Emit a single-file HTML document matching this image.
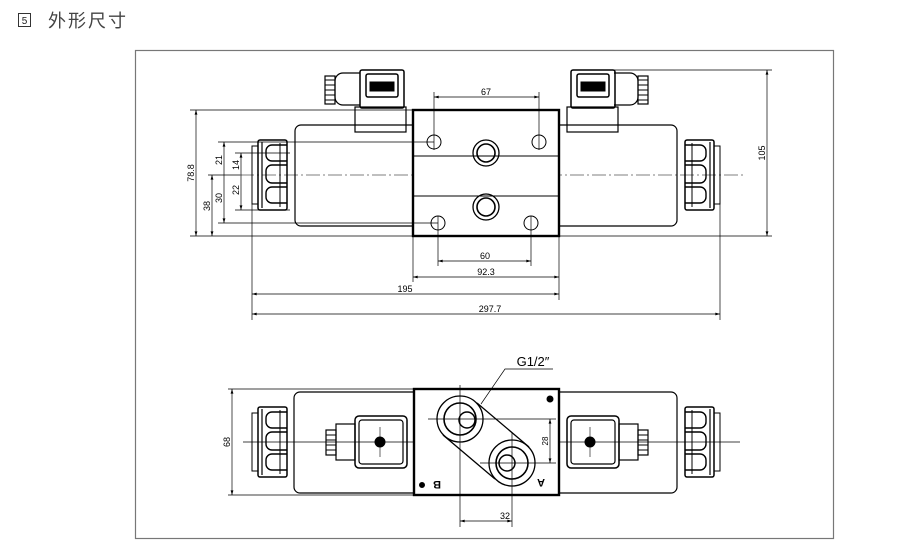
<!DOCTYPE html>
<html><head><meta charset="utf-8"><style>
html,body{margin:0;padding:0;background:#fff;width:905px;height:553px;overflow:hidden}
svg{display:block}
text{font-family:"Liberation Sans","DejaVu Sans",sans-serif}
</style></head><body>
<svg width="905" height="553" viewBox="0 0 905 553" xmlns="http://www.w3.org/2000/svg">
<defs>
<marker id="a" viewBox="0 0 10 6" refX="10" refY="3" markerWidth="8" markerHeight="4" orient="auto-start-reverse"><path d="M0,0L10,3L0,6z" fill="#000"/></marker>
<g id="nutL" fill="none" stroke="#000">
<rect x="0" y="0" width="29" height="70" rx="2" stroke-width="1.5"/>
<rect x="-6" y="6" width="6" height="58" stroke-width="1"/>
<path d="M4,2v66" stroke-width="1.2"/>
<path d="M29,5H14a6,6 0 0 0 -6,6v4a6,6 0 0 0 6,6H29" stroke-width="1.4"/>
<path d="M29,25H14a6,6 0 0 0 -6,6v6a6,6 0 0 0 6,6H29" stroke-width="1.4"/>
<path d="M29,47H14a6,6 0 0 0 -6,6v4a6,6 0 0 0 6,6H29" stroke-width="1.4"/>
<path d="M22,3v64" stroke-width="1"/>
</g>
</defs>
<!-- title -->
<rect x="18.5" y="13.5" width="12" height="13" fill="none" stroke="#333" stroke-width="1"/>
<text x="24.5" y="24" font-size="10" text-anchor="middle" fill="#222">5</text>
<text x="48" y="27" font-size="18" fill="#444" font-family="'Liberation Sans','Noto Sans CJK SC',sans-serif" letter-spacing="2">外形尺寸</text>
<!-- frame -->
<rect x="135.5" y="50.5" width="698" height="488" fill="none" stroke="#777" stroke-width="1.2"/>

<g fill="none" stroke="#000" stroke-width="1">
<!-- ===== TOP VIEW ===== -->
<line x1="240" y1="175" x2="745" y2="175" stroke-width="0.6" stroke-dasharray="14,3,2,3"/>
<path d="M413,125H301a6,6 0 0 0 -6,6V220a6,6 0 0 0 6,6H413" stroke-width="1.2"/>
<path d="M559,125H671a6,6 0 0 1 6,6V220a6,6 0 0 1 -6,6H559" stroke-width="1.2"/>
<use href="#nutL" transform="translate(258,140)"/>
<use href="#nutL" transform="translate(714,140) scale(-1,1)"/>
<!-- connectors -->
<rect x="355" y="107" width="51" height="25" stroke-width="1.2"/>
<path d="M360,73H343a8,8 0 0 0 -8,8V97a8,8 0 0 0 8,8H360" stroke-width="1.2"/>
<rect x="360" y="70" width="44" height="38" rx="2" stroke-width="1.5"/>
<rect x="366" y="74" width="32" height="23" rx="2" stroke-width="1.5"/>
<rect x="370" y="82" width="24" height="9" fill="#000"/>
<rect x="325" y="76" width="10" height="28" stroke-width="1.2"/>
<path d="M325,80h10M325,85h10M325,90h10M325,95h10M325,100h10"/>
<rect x="567" y="107" width="51" height="25" stroke-width="1.2"/>
<path d="M614,73H630a8,8 0 0 1 8,8V97a8,8 0 0 1 -8,8H614" stroke-width="1.2"/>
<rect x="571" y="70" width="44" height="38" rx="2" stroke-width="1.5"/>
<rect x="577" y="74" width="32" height="23" rx="2" stroke-width="1.5"/>
<rect x="581" y="82" width="24" height="9" fill="#000"/>
<rect x="638" y="76" width="10" height="28" stroke-width="1.2"/>
<path d="M638,80h10M638,85h10M638,90h10M638,95h10M638,100h10"/>
<!-- block -->
<rect x="413" y="110" width="146" height="126" fill="#fff" stroke-width="2.4"/>
<line x1="413" y1="156" x2="559" y2="156"/>
<line x1="413" y1="196" x2="559" y2="196"/>
<circle cx="434" cy="142" r="7"/><circle cx="539" cy="142" r="7"/>
<circle cx="438" cy="223" r="7"/><circle cx="531" cy="223" r="7"/>
<circle cx="486" cy="153" r="13" stroke-width="1.3"/><circle cx="486" cy="153" r="9" stroke-width="1.6"/>
<circle cx="486" cy="207" r="13" stroke-width="1.3"/><circle cx="486" cy="207" r="9" stroke-width="1.6"/>
<g stroke-width="0.7">
<path d="M434,92V150M539,92V150M438,216V266M531,216V266M413,236V282M559,236V300M252,204V320M720,204V320"/>
<line x1="434" y1="97" x2="539" y2="97" marker-start="url(#a)" marker-end="url(#a)"/>
<line x1="438" y1="261" x2="531" y2="261" marker-start="url(#a)" marker-end="url(#a)"/>
<line x1="413" y1="277" x2="559" y2="277" marker-start="url(#a)" marker-end="url(#a)"/>
<line x1="252" y1="294" x2="559" y2="294" marker-start="url(#a)" marker-end="url(#a)"/>
<line x1="252" y1="314" x2="720" y2="314" marker-start="url(#a)" marker-end="url(#a)"/>
<path d="M190,110H413M190,236H413M208,175H240M218,142H434M235,153H290M218,223H438M235,210H290M613,70H772M559,236H772"/>
<line x1="196" y1="110" x2="196" y2="236" marker-start="url(#a)" marker-end="url(#a)"/>
<line x1="212" y1="175" x2="212" y2="236" marker-start="url(#a)" marker-end="url(#a)"/>
<line x1="224" y1="142" x2="224" y2="223" marker-start="url(#a)" marker-end="url(#a)"/>
<line x1="241" y1="153" x2="241" y2="210" marker-start="url(#a)" marker-end="url(#a)"/>
<line x1="767" y1="70" x2="767" y2="236" marker-start="url(#a)" marker-end="url(#a)"/>
</g>

<!-- ===== BOTTOM VIEW ===== -->
<line x1="243" y1="442" x2="740" y2="442" stroke-width="0.7"/>
<path d="M414,392H300a6,6 0 0 0 -6,6V487a6,6 0 0 0 6,6H414" stroke-width="1.2"/>
<path d="M559,392H671a6,6 0 0 1 6,6V487a6,6 0 0 1 -6,6H559" stroke-width="1.2"/>
<use href="#nutL" transform="translate(258,407)"/>
<use href="#nutL" transform="translate(714,407) scale(-1,1)"/>
<rect x="355" y="416" width="52" height="52" rx="4" stroke-width="1.5"/>
<rect x="359" y="420" width="44" height="44" rx="3" stroke-width="1.2"/>
<rect x="336" y="424" width="19" height="36" stroke-width="1.2"/>
<rect x="326" y="430" width="10" height="25" stroke-width="1.2"/>
<path d="M326,435h10M326,440h10M326,445h10M326,450h10"/>
<circle cx="380" cy="442" r="5" fill="#000"/>
<path d="M380,427v30" stroke-width="0.6"/>
<rect x="567" y="416" width="52" height="52" rx="4" stroke-width="1.5"/>
<rect x="571" y="420" width="44" height="44" rx="3" stroke-width="1.2"/>
<rect x="619" y="424" width="19" height="36" stroke-width="1.2"/>
<rect x="638" y="430" width="10" height="25" stroke-width="1.2"/>
<path d="M638,435h10M638,440h10M638,445h10M638,450h10"/>
<circle cx="590" cy="442" r="5" fill="#000"/>
<path d="M590,427v30" stroke-width="0.6"/>
<rect x="414" y="389" width="145" height="106" fill="#fff" stroke-width="2.4"/>
<circle cx="460" cy="419" r="23" stroke-width="1.3" fill="#fff"/>
<circle cx="512" cy="463" r="23" stroke-width="1.3" fill="#fff"/>
<path d="M443,435L495,479M477,403L529,447" stroke-width="1.3"/>
<circle cx="460" cy="419" r="16" stroke-width="1.6"/>
<circle cx="512" cy="463" r="16" stroke-width="1.6"/>
<circle cx="467" cy="420" r="8" stroke-width="1.5"/>
<circle cx="507" cy="463" r="8" stroke-width="1.5"/>
<circle cx="550" cy="399" r="3" fill="#000"/>
<circle cx="422" cy="485" r="2.5" fill="#000"/>
<g stroke-width="0.7">
<path d="M460,385V527M512,432V527M428,419H556M480,463H556M228,389H414M228,495H414"/>
<line x1="232" y1="389" x2="232" y2="495" marker-start="url(#a)" marker-end="url(#a)"/>
<line x1="550" y1="419" x2="550" y2="463" marker-start="url(#a)" marker-end="url(#a)"/>
<line x1="460" y1="521" x2="512" y2="521" marker-start="url(#a)" marker-end="url(#a)"/>
<path d="M553,369H505L481,404"/>
</g>
</g>
<g font-size="9" fill="#000" text-anchor="middle">
<text x="486" y="95">67</text>
<text x="485" y="259">60</text>
<text x="486" y="275">92.3</text>
<text x="405" y="292">195</text>
<text x="490" y="312">297.7</text>
<text x="505" y="519">32</text>
<text transform="translate(194,173) rotate(-90)">78.8</text>
<text transform="translate(210,206) rotate(-90)">38</text>
<text transform="translate(222,198) rotate(-90)">30</text>
<text transform="translate(222,160) rotate(-90)">21</text>
<text transform="translate(239,165) rotate(-90)">14</text>
<text transform="translate(239,190) rotate(-90)">22</text>
<text transform="translate(765,153) rotate(-90)">105</text>
<text transform="translate(230,442) rotate(-90)">68</text>
<text transform="translate(548,441) rotate(-90)" font-size="8">28</text>
</g>
<text x="533" y="366" font-size="13" text-anchor="middle" fill="#000">G1/2″</text>
<text transform="translate(437,481) rotate(180)" font-size="11" font-weight="bold" text-anchor="middle">B</text>
<text transform="translate(541,479) rotate(180)" font-size="11" font-weight="bold" text-anchor="middle">A</text>
</svg>
</body></html>
